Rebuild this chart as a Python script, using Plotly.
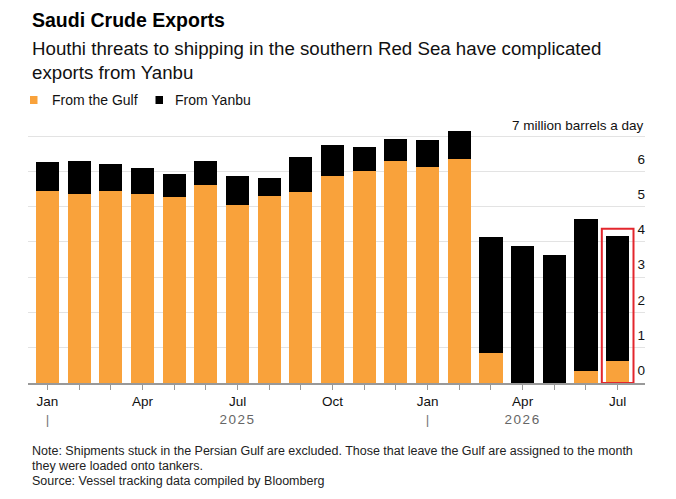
import plotly.graph_objects as go

# ---- data (million barrels a day) ----
months = ["Jan", "Feb", "Mar", "Apr", "May", "Jun", "Jul", "Aug", "Sep", "Oct", "Nov", "Dec",
          "Jan", "Feb", "Mar", "Apr", "May", "Jun", "Jul"]
years = ["2025"] * 12 + ["2026"] * 7
from_gulf = [5.45, 5.36, 5.45, 5.36, 5.27, 5.62, 5.04, 5.30, 5.42, 5.88, 6.02, 6.30,
             6.12, 6.34, 0.86, 0.0, 0.0, 0.33, 0.63]
from_yanbu = [0.81, 0.92, 0.76, 0.73, 0.65, 0.66, 0.84, 0.51, 0.99, 0.88, 0.67, 0.61,
              0.76, 0.79, 3.29, 3.89, 3.64, 4.31, 3.53]
series_names = ["From the Gulf", "From Yanbu"]
y_ticks = [0, 1, 2, 3, 4, 5, 6, 7]
y_ticktext = ["0", "1", "2", "3", "4", "5", "6", ""]
y_unit_label = "7 million barrels a day"
highlight_index = 18

ORANGE = "#F9A23B"
BLACK = "#000000"
FONT = "Liberation Sans, Arial, sans-serif"

W, H = 676, 499
L, R = 28, 645
T, B = 129, 383


def px_x(px):
    return (px - L) / (R - L)


def px_y(py):
    return (B - py) / (B - T)


x = list(range(len(months)))

# tick labels: month + year row
ticktext = []
for i, m in enumerate(months):
    if m in ("Jan", "Apr", "Jul", "Oct"):
        second = ""
        if m == "Jan":
            second = "<span style='color:#777'>|</span>"
        elif (years[i] == "2025" and m == "Jul") or (years[i] == "2026" and m == "Apr"):
            second = "<span style='color:#666;letter-spacing:1.5px'>" + years[i] + "</span>"
        ticktext.append(m + "<br>" + second)
    else:
        ticktext.append("")

fig = go.Figure()
fig.add_trace(go.Bar(x=x, y=from_gulf, marker=dict(color=ORANGE, line=dict(width=0)),
                     width=0.73, name=series_names[0]))
fig.add_trace(go.Bar(x=x, y=from_yanbu, marker=dict(color=BLACK, line=dict(width=0)),
                     width=0.73, name=series_names[1]))

total_hi = from_gulf[highlight_index] + from_yanbu[highlight_index]
shapes = [
    dict(type="rect", xref="x", yref="y",
         x0=highlight_index - 0.5, x1=highlight_index + 0.5,
         y0=0, y1=total_hi + 0.21,
         line=dict(color="#E3262D", width=2), fillcolor="rgba(0,0,0,0)", layer="above"),
]

annotations = [
    dict(text="<b>Saudi Crude Exports</b>", x=px_x(30), y=px_y(20), xanchor="left", yanchor="middle",
         font=dict(size=19.5, color="#000", family=FONT)),
    dict(text="Houthi threats to shipping in the southern Red Sea have complicated<br>exports from Yanbu",
         x=px_x(30), y=px_y(60), xanchor="left", yanchor="middle", align="left",
         font=dict(size=18.7, color="#111", family=FONT)),
    dict(text="Note: Shipments stuck in the Persian Gulf are excluded. Those that leave the Gulf are assigned to the month",
         x=px_x(30), y=px_y(451), xanchor="left", yanchor="middle",
         font=dict(size=12.5, color="#222", family=FONT)),
    dict(text="they were loaded onto tankers.",
         x=px_x(30), y=px_y(466), xanchor="left", yanchor="middle",
         font=dict(size=12.5, color="#222", family=FONT)),
    dict(text="Source: Vessel tracking data compiled by Bloomberg",
         x=px_x(30), y=px_y(481), xanchor="left", yanchor="middle",
         font=dict(size=12.5, color="#222", family=FONT)),
]

# manual legend (swatch + label)
legend_items = [(series_names[0], ORANGE, 30, 49.5), (series_names[1], BLACK, 155.5, 172.5)]
for name, col, sx, tx in legend_items:
    shapes.append(dict(type="rect", xref="paper", yref="paper",
                       x0=px_x(sx), x1=px_x(sx + 7.5), y0=px_y(104), y1=px_y(96),
                       fillcolor=col, line=dict(width=0), layer="above"))
    annotations.append(dict(text=name, x=px_x(tx), y=px_y(100), xanchor="left", yanchor="middle",
                            font=dict(size=14, color="#111", family=FONT)))

for a in annotations:
    a.update(xref="paper", yref="paper", showarrow=False)
# unit label on the top gridline
annotations.append(dict(text=y_unit_label, xref="paper", yref="y", x=1, y=y_ticks[-1],
                        xanchor="right", yanchor="bottom", showarrow=False, yshift=1, xshift=1,
                        font=dict(size=13.5, color="#111", family=FONT)))

fig.update_layout(
    width=W, height=H,
    margin=dict(l=L, r=W - R, t=T, b=H - B, pad=0, autoexpand=False),
    paper_bgcolor="white", plot_bgcolor="white",
    barmode="stack", bargap=0.27,
    font=dict(family=FONT, color="#222"),
    showlegend=False,
    annotations=annotations,
    shapes=shapes,
    xaxis=dict(
        range=[-0.613, 18.863], tickmode="array", tickvals=x, ticktext=ticktext,
        ticks="outside", ticklen=5, tickcolor="#999", tickwidth=1, automargin=False,
        showline=True, linecolor="#999", linewidth=2, showgrid=False, zeroline=False,
        tickfont=dict(size=13.5, color="#111", family=FONT), fixedrange=True,
    ),
    yaxis=dict(
        range=[0, 7.2], side="right", tickmode="array", tickvals=y_ticks, ticktext=y_ticktext,
        ticklabelposition="inside top", ticklabelshift=-3, ticklabelstandoff=-3,
        showgrid=True, gridcolor="#E3E3E3", gridwidth=1,
        zeroline=False, showline=False, ticks="", automargin=False,
        tickfont=dict(size=13.5, color="#111", family=FONT), fixedrange=True,
    ),
)

fig.write_html("out.html", post_script="document.body.style.margin='0';",
               config={"displayModeBar": False})
